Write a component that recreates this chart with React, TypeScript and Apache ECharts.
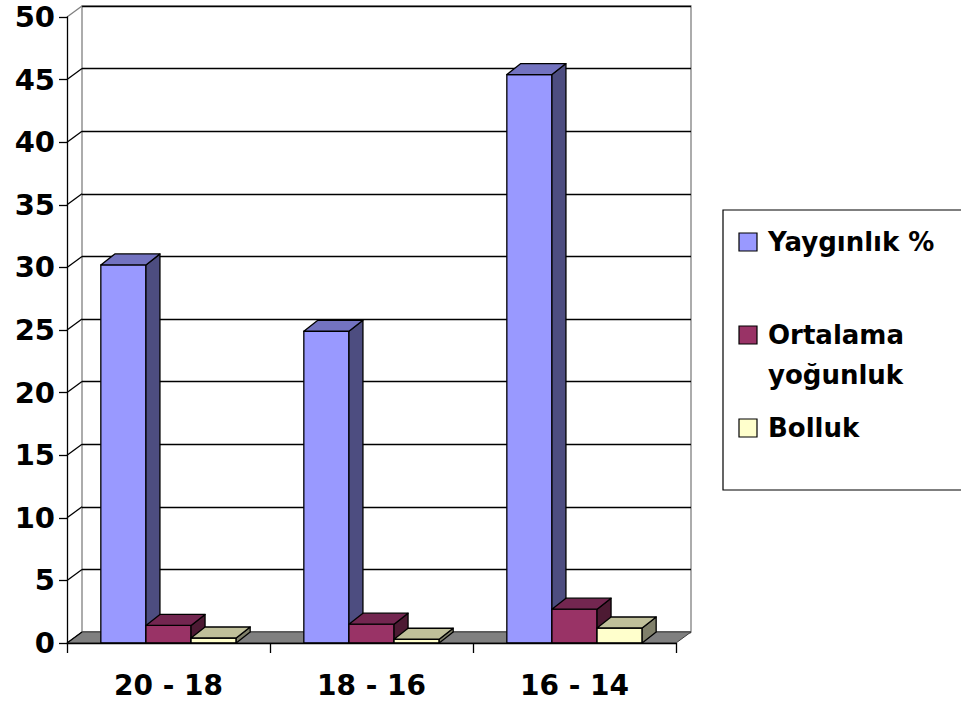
import React, { useEffect, useRef } from 'react';
import * as echarts from 'echarts';

const categories = ['20 - 18', '18 - 16', '16 - 14'];
const seriesNames = ['Yaygınlık %', 'Ortalama yoğunluk', 'Bolluk'];
const legendLabels = ['Yaygınlık %', 'Ortalama\nyoğunluk', 'Bolluk'];
const yayginlik = [30.2, 24.9, 45.4];
const ortalamaYogunluk = [1.4, 1.5, 2.7];
const bolluk = [0.4, 0.3, 1.2];
const yTicks = [0, 5, 10, 15, 20, 25, 30, 35, 40, 45, 50];

const frontColors = ['#9999FF', '#993366', '#FFFFCC'];
const topColors = ['#7373C0', '#732650', '#C0C09A'];
const sideColors = ['#4D4D80', '#4D1A33', '#80806A'];

const FONT = 'DejaVu Sans';
const DX = 15;
const DY = -11;
const BDX = 14;
const BDY = -11;

export default function App() {
  const ref = useRef<HTMLDivElement>(null);
  useEffect(() => {
    if (!ref.current) return;
    const chart = echarts.init(ref.current, null, { renderer: 'svg' });
    const allValues = [yayginlik, ortalamaYogunluk, bolluk];

    const barSeries = allValues.map((vals, k) => ({
      type: 'custom',
      name: seriesNames[k],
      xAxisIndex: 0,
      yAxisIndex: 0,
      z: 3,
      encode: { x: 0, y: 1 },
      data: vals.map((v, i) => [i, v]),
      renderItem: (params: any, api: any) => {
        const ci = api.value(0);
        const v = api.value(1);
        const base = api.coord([ci, 0]);
        const top = api.coord([ci, v]);
        const cw = api.size([1, 0])[0];
        const bw = cw / 4.5;
        const x0 = base[0] + (k - 1.5) * bw;
        const x1 = x0 + bw;
        const yb = base[1];
        const yt = top[1];
        const st = { stroke: '#000', lineWidth: 1.3, lineJoin: 'round' };
        return {
          type: 'group',
          children: [
            {
              type: 'polygon',
              shape: { points: [[x0, yb], [x1, yb], [x1, yt], [x0, yt]] },
              style: { fill: frontColors[k], ...st },
            },
            {
              type: 'polygon',
              shape: { points: [[x1, yb], [x1 + BDX, yb + BDY], [x1 + BDX, yt + BDY], [x1, yt]] },
              style: { fill: sideColors[k], ...st },
            },
            {
              type: 'polygon',
              shape: { points: [[x0, yt], [x1, yt], [x1 + BDX, yt + BDY], [x0 + BDX, yt + BDY]] },
              style: { fill: topColors[k], ...st },
            },
          ],
        };
      },
    }));

    const wallSeries = {
      type: 'custom',
      name: 'walls',
      xAxisIndex: 0,
      yAxisIndex: 0,
      z: 1,
      silent: true,
      encode: { x: 0, y: 1 },
      data: yTicks.map((v) => [0, v]),
      renderItem: (params: any, api: any) => {
        const cs = params.coordSys;
        const v = api.value(1);
        const y = api.coord([0, v])[1];
        const children: any[] = [];
        if (v === 0) {
          children.push({
            type: 'polygon',
            shape: {
              points: [
                [cs.x, y],
                [cs.x + cs.width, y],
                [cs.x + cs.width + DX, y + DY],
                [cs.x + DX, y + DY],
              ],
            },
            style: { fill: '#808080', stroke: '#404040', lineWidth: 1 },
          });
        }
        children.push({
          type: 'line',
          shape: { x1: cs.x, y1: y, x2: cs.x + DX, y2: y + DY },
          style: { stroke: v === 50 ? '#808080' : '#000', lineWidth: 1.3 },
        });
        return { type: 'group', children };
      },
    };

    const legendChildren: any[] = [
      {
        type: 'rect',
        shape: { x: 723, y: 210, width: 260, height: 280 },
        style: { fill: '#fff', stroke: '#000', lineWidth: 1.2 },
      },
    ];
    const legendY = [242, 335, 428];
    legendLabels.forEach((label, k) => {
      legendChildren.push({
        type: 'rect',
        shape: { x: 739, y: legendY[k] - 9, width: 18, height: 18 },
        style: { fill: frontColors[k], stroke: '#000', lineWidth: 1.2 },
      });
      legendChildren.push({
        type: 'text',
        x: 768,
        y: legendY[k] - 20,
        style: {
          text: label,
          fill: '#000',
          font: `bold 26px "${FONT}"`,
          lineHeight: 40,
          verticalAlign: 'top',
          align: 'left',
        },
      });
    });

    chart.setOption({
      animation: false,
      backgroundColor: '#fff',
      grid: [
        { left: 67, top: 17, width: 609, height: 626, containLabel: false },
        {
          left: 82,
          top: 6,
          width: 609,
          height: 626,
          show: true,
          borderColor: '#808080',
          borderWidth: 1.3,
          backgroundColor: 'transparent',
          z: 0,
        },
      ],
      xAxis: [
        {
          type: 'category',
          gridIndex: 0,
          data: categories,
          z: 5,
          axisLine: { show: true, lineStyle: { color: '#000', width: 1.3 } },
          axisTick: { show: true, length: 10, lineStyle: { color: '#000', width: 1.3 } },
          axisLabel: {
            color: '#000',
            fontFamily: FONT,
            fontWeight: 'bold',
            fontSize: 28,
            margin: 28,
          },
          splitLine: { show: false },
        },
        {
          type: 'category',
          gridIndex: 1,
          data: categories,
          show: false,
        },
      ],
      yAxis: [
        {
          type: 'value',
          gridIndex: 0,
          min: 0,
          max: 50,
          interval: 5,
          z: 5,
          axisLine: { show: true, lineStyle: { color: '#000', width: 1.3 } },
          axisTick: { show: true, length: 8, lineStyle: { color: '#000', width: 1.3 } },
          axisLabel: {
            color: '#000',
            fontFamily: FONT,
            fontWeight: 'bold',
            fontSize: 29,
            margin: 12,
          },
          splitLine: { show: false },
        },
        {
          type: 'value',
          gridIndex: 1,
          min: 0,
          max: 50,
          interval: 5,
          axisLine: { show: false },
          axisTick: { show: false },
          axisLabel: { show: false },
          splitLine: { show: true, lineStyle: { color: '#000', width: 1.3 } },
        },
      ],
      series: [wallSeries, ...barSeries],
      graphic: [{ type: 'group', children: legendChildren }],
    });
    return () => chart.dispose();
  }, []);
  return (
    <div
      ref={ref}
      style={{ position: 'fixed', left: 0, top: 0, width: 961, height: 707 }}
    />
  );
}
